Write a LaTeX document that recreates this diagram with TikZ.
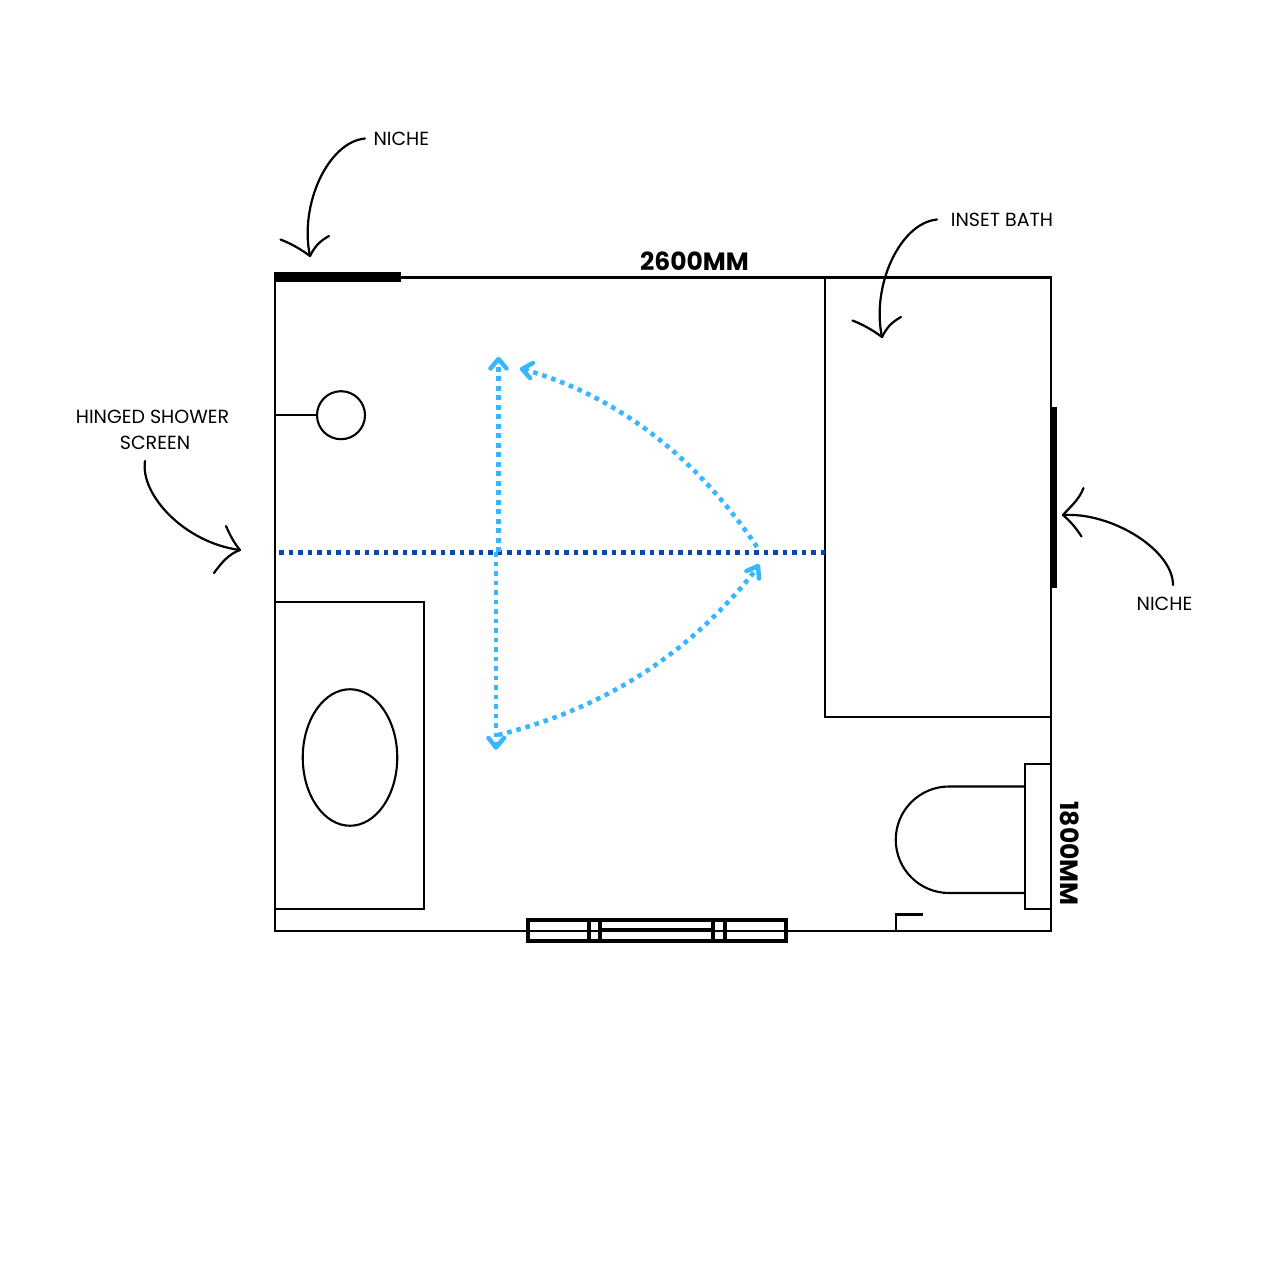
\documentclass[tikz,border=0pt]{standalone}
\usepackage{fontspec}
\usetikzlibrary{shapes.geometric}
\setmainfont{Poppins}
\definecolor{lightblue}{HTML}{38B6FF}
\definecolor{darkblue}{HTML}{004AAD}
\tikzset{
  wall/.style={draw=black,line width=2.1pt},
  heavy/.style={draw=black,line width=4pt},
  nichebar/.style={fill=black,draw=none},
  callout/.style={draw=black,line width=2.2pt,line cap=round,line join=round},
  tag/.style={font=\fontsize{19}{21}\selectfont,text=black,inner sep=0pt},
  dim/.style={font=\fontsize{25}{28}\selectfont\bfseries,text=black,inner sep=0pt},
  swing/.style={draw=lightblue,line width=4.6pt,dash pattern=on 4.6pt off 4.9pt},
  swinghead/.style={draw=lightblue,line width=4.5pt,line cap=round,line join=round},
  screenline/.style={draw=darkblue,line width=4.8pt,dash pattern=on 4.8pt off 4.7pt}
}
\begin{document}
\begin{tikzpicture}[x=1pt,y=-1pt]
\useasboundingbox[fill=white] (0,0) rectangle (1280,1280);
% room
\draw[wall] (275,277.5) rectangle (1051.2,931);
\fill[nichebar] (274,272) rectangle (401,281.5);
\fill[nichebar] (1049.5,407) rectangle (1056.5,587.5);
% bath
\draw[wall] (825,277.5) rectangle (1051.2,717);
% shower
\node[circle,draw=black,line width=2.1pt,minimum size=48pt,inner sep=0pt] (rose) at (341,415.2) {};
\coordinate (roseWall) at (275,415.2);
\draw[wall] (roseWall) -- (rose.west);
% vanity
\draw[wall] (275,602.3) rectangle (424.2,909);
\node[ellipse,draw=black,line width=2.1pt,minimum width=94.5pt,minimum height=136.5pt,inner sep=0pt] (basin) at (350,757.5) {};
% toilet
\draw[wall] (1025,764.3) rectangle (1051.2,909);
\draw[wall] (1025,786.5) -- (949,786.5) .. controls (919.6,786.5) and (895.75,810.3) .. (895.75,839.75) .. controls (895.75,869.2) and (919.6,893) .. (949,893) -- (1025,893);
% door stop
\draw[wall] (896,931) -- (896,914.5) -- (923,914.5);
% window
\draw[heavy,fill=white] (527.5,920) rectangle (786,941);
\draw[wall] (527.5,931) -- (786,931);
\draw[heavy] (589,920) -- (589,941);
\draw[heavy] (600,920) -- (600,941);
\draw[heavy] (713,920) -- (713,941);
\draw[heavy] (725,920) -- (725,941);
\draw[heavy] (600,930) -- (713,930);
% screen
\coordinate (screenL) at (279,552.3);
\coordinate (screenR) at (825,552.3);
\draw[screenline] (screenL) -- (screenR);
% swing: straight
\coordinate (hinge1) at (498.5,552);
\coordinate (up) at (498.5,362);
\coordinate (hinge2) at (496,552);
\coordinate (down) at (496,744);
\draw[swing] (hinge1) -- (up);
\draw[swing] (hinge2) -- (down);
\draw[swinghead] (490.5,368.5) -- (498.5,359) -- (506.5,368.5);
\draw[swinghead] (488.5,738) -- (496,747.5) -- (504,738);
% swing: arcs
\coordinate (tipR) at (757,547);
\coordinate (tipUL) at (526,370);
\draw[swing] (tipR) .. controls (705,470) and (630,400) .. (tipUL);
\draw[swinghead] (533,363) -- (522,369) -- (530,378);
\coordinate (tipDL) at (498,735);
\coordinate (tipUR) at (754,572);
\draw[swing] (tipDL) .. controls (590,712) and (680,665) .. (tipUR);
\draw[swinghead] (746.5,571) -- (758,566) -- (759,578.5);
% labels
\node[tag] (niche1) at (401.3,139) {NICHE};
\node[tag] (inset) at (1002,220) {INSET BATH};
\node[tag] (niche2) at (1164.5,604) {NICHE};
\node[tag] (hinged1) at (152.5,417) {HINGED SHOWER};
\node[tag] (hinged2) at (155,443) {SCREEN};
\node[dim] (width) at (694.5,261) {2600MM};
\node[dim,rotate=-90] (height) at (1070,853.5) {1800MM};
% callouts
\coordinate (a1s) at (365,138.5);
\coordinate (a1t) at (310,256);
\draw[callout] (a1s) .. controls (328,142) and (299,205) .. (a1t);
\draw[callout] (280.5,239.5) .. controls (292,244) and (302,250) .. (a1t) .. controls (315,246) and (320,241) .. (329,236);
\coordinate (a2s) at (937,219.5);
\coordinate (a2t) at (882,337);
\draw[callout] (a2s) .. controls (900,223) and (871,286) .. (a2t);
\draw[callout] (852.5,320.5) .. controls (864,325) and (874,331) .. (a2t) .. controls (887,327) and (892,322) .. (901,317);
\coordinate (a3s) at (1173,585);
\coordinate (a3t) at (1063,515);
\draw[callout] (a3s) .. controls (1173,550) and (1112,512) .. (a3t);
\draw[callout] (1083.5,488) .. controls (1079,500) and (1070,507) .. (a3t) .. controls (1071,522) and (1076,528) .. (1081.5,536.5);
\coordinate (a4s) at (145,461);
\coordinate (a4t) at (240,550);
\draw[callout] (a4s) .. controls (140,495) and (185,543) .. (a4t);
\draw[callout] (226,526) .. controls (230,535) and (234,543) .. (a4t) .. controls (229,554) and (222,562) .. (214,573);
\end{tikzpicture}
\end{document}
